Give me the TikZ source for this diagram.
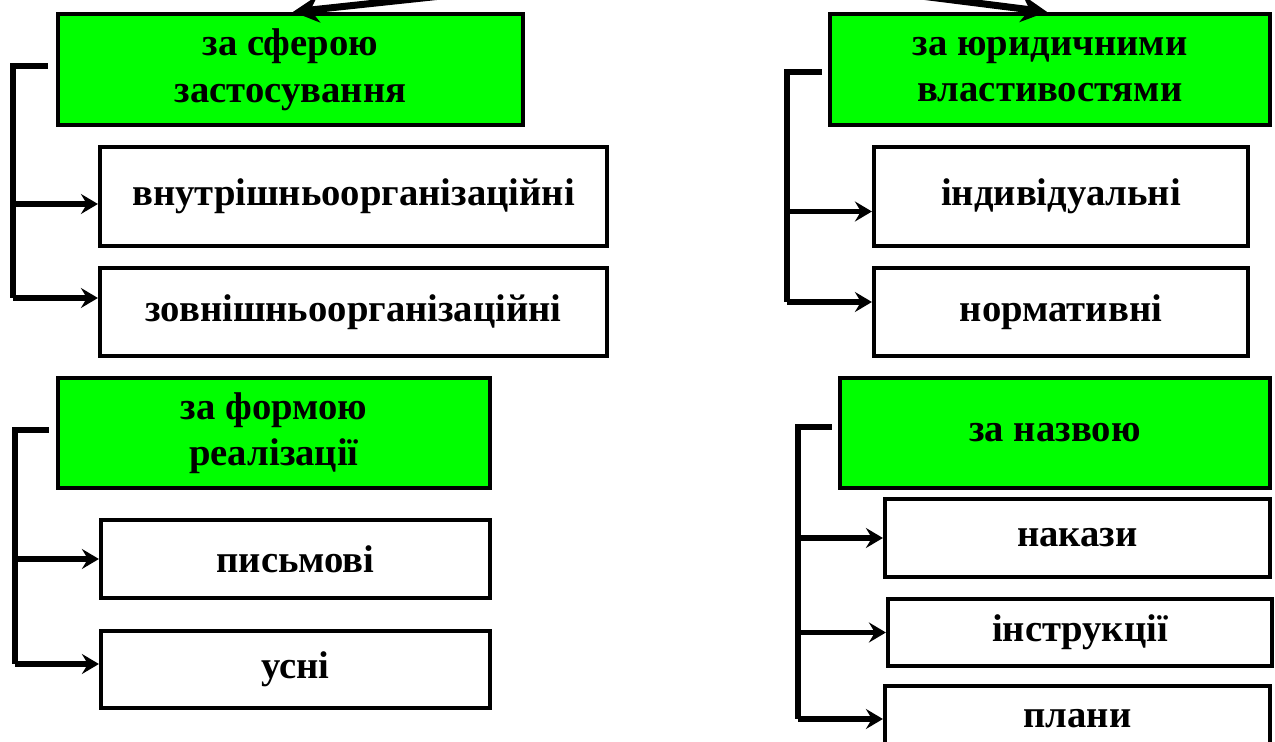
\documentclass[tikz,border=0pt]{standalone}
\usepackage{fontspec}
\setmainfont{Liberation Serif}
\usepackage{xcolor}
\usetikzlibrary{arrows.meta}
\definecolor{catgreen}{RGB}{0,255,0}

\begin{document}
\begin{tikzpicture}[x=0.02cm, y=-0.02cm,
  box/.style={draw, line width=0.85mm, inner sep=0pt, align=center,
    font=\fontsize{22}{26.5}\selectfont\bfseries},
  cat/.style={box, fill=catgreen},
  item/.style={box, fill=white},
  spine/.style={line width=1.1mm},
  ptr/.style={line width=1.1mm, -{Stealth[length=3.4mm,width=4mm,inset=1.2mm]}},
  bigptr/.style={line width=1.4mm, -{Stealth[length=5.2mm,width=5.4mm,inset=1.7mm]}}
]
\useasboundingbox (0,0) rectangle (1275,742);

% left column
\node[cat, minimum width=9.3cm, minimum height=2.22cm] (sfera) at (290.5,69.5) {за сферою\\застосування};
\node[item, minimum width=10.14cm, minimum height=1.98cm] (vnutr) at (353.5,196.5) {внутрішньоорганізаційні};
\node[item, minimum width=10.14cm, minimum height=1.76cm] (zovn) at (353.5,312) {зовнішньоорганізаційні};
\node[cat, minimum width=8.64cm, minimum height=2.2cm] (forma) at (274,433) {за формою\\реалізації};
\node[item, minimum width=7.78cm, minimum height=1.56cm] (pysm) at (295.5,559) {письмові};
\node[item, minimum width=7.78cm, minimum height=1.54cm] (usni) at (295.5,669.5) {усні};

% right column
\node[cat, minimum width=8.8cm, minimum height=2.22cm] (jur) at (1050,69.5) {за юридичними\\властивостями};
\node[item, minimum width=7.48cm, minimum height=1.98cm] (indyv) at (1061,196.5) {індивідуальні};
\node[item, minimum width=7.48cm, minimum height=1.76cm] (norm) at (1061,312) {нормативні};
\node[cat, minimum width=8.6cm, minimum height=2.2cm] (nazva) at (1055,433) {за назвою};
\node[item, minimum width=7.7cm, minimum height=1.56cm] (nakazy) at (1077.5,538) {накази};
\node[item, minimum width=7.68cm, minimum height=1.34cm] (instr) at (1080,632.5) {інструкції};
\node[item, minimum width=7.7cm, minimum height=1.32cm] (plany) at (1077.5,719) {плани};

% arrows coming from above
\coordinate (srcL) at (460,-6);
\coordinate (srcR) at (905,-6);
\draw[bigptr] (srcL) -- ([xshift=0.05cm]sfera.north);
\draw[bigptr] (srcR) -- ([xshift=-0.06cm]jur.north);

% bracket: za sferoju
\coordinate (k1) at (13,66);
\coordinate (a1) at ([yshift=-0.15cm]vnutr.west);
\coordinate (a2) at ([yshift=0.28cm]zovn.west);
\draw[spine] ([xshift=-0.16cm]sfera.west |- k1) -- (k1) -- (k1 |- a2);
\draw[ptr] (k1 |- a1) -- (a1);
\draw[ptr] (k1 |- a2) -- (a2);

% bracket: za formoju
\coordinate (k2) at (15,430);
\coordinate (a4) at ([yshift=0.11cm]usni.west);
\draw[spine] ([xshift=-0.14cm]forma.west |- k2) -- (k2) -- (k2 |- a4);
\draw[ptr] (k2 |- pysm.west) -- (pysm.west);
\draw[ptr] (k2 |- a4) -- (a4);

% bracket: za jurydychnymy
\coordinate (k3) at (787,72);
\coordinate (a5) at ([yshift=-0.3cm]indyv.west);
\coordinate (a6) at ([yshift=0.2cm]norm.west);
\draw[spine] ([xshift=-0.12cm]jur.west |- k3) -- (k3) -- (k3 |- a6);
\draw[ptr] (k3 |- a5) -- (a5);
\draw[ptr] (k3 |- a6) -- (a6);

% bracket: za nazvoju
\coordinate (k4) at (798,427);
\draw[spine] ([xshift=-0.12cm]nazva.west |- k4) -- (k4) -- (k4 |- plany.west);
\draw[ptr] (k4 |- nakazy.west) -- (nakazy.west);
\draw[ptr] (k4 |- instr.west) -- (instr.west);
\draw[ptr] (k4 |- plany.west) -- (plany.west);
\end{tikzpicture}
\end{document}
